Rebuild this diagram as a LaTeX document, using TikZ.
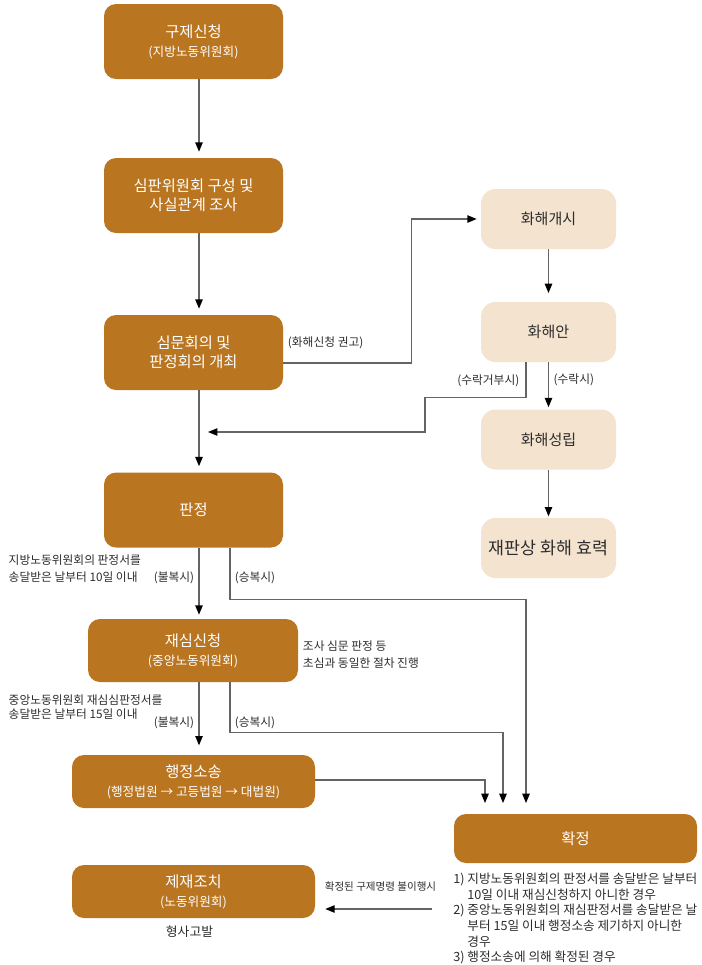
\documentclass[tikz,border=0pt]{standalone}
\usepackage{fontspec}
\setmainfont{Noto Sans CJK KR}
\usetikzlibrary{arrows.meta,positioning,calc}
\definecolor{boxbrown}{RGB}{185,117,32}
\definecolor{boxsand}{RGB}{243,227,207}
\definecolor{linegray}{RGB}{100,100,100}
\definecolor{txtgray}{RGB}{45,45,45}
\newcommand{\subline}[1]{{\fontsize{9.5}{14.25}\selectfont #1}}

\begin{document}
\begin{tikzpicture}[x=0.75pt, y=-0.75pt,
  every node/.style={font=\fontsize{8.8}{12.75}\selectfont, text=txtgray},
  stage/.style={fill=boxbrown, rounded corners=9pt, text=white, align=center, inner sep=0pt,
    minimum width=134.25pt, minimum height=56.25pt, font=\fontsize{11.5}{14.25}\selectfont},
  wide/.style={minimum width=182.25pt, minimum height=39.75pt},
  settle/.style={fill=boxsand, rounded corners=11pt, align=center, inner sep=0pt,
    minimum width=101.25pt, minimum height=45pt, font=\fontsize{11.3}{14}\selectfont},
  flow/.style={draw=linegray, line width=1pt, shorten >=4.5pt,
    -{Triangle[length=7pt,width=5.5pt,color=black]}}]

\fill[white] (0,0) rectangle (702,965);
\useasboundingbox (0,0) rectangle (702,965);

\node[stage] (claim) at (193.5,41.5) {구제신청\\\subline{(지방노동위원회)}};
\node[stage] (inquiry) at (193.5,195.5) {심판위원회 구성 및\\사실관계 조사};
\node[stage] (hearing) at (193.5,352.5) {심문회의 및\\판정회의 개최};
\node[stage] (ruling) at (193.5,510) {판정};
\node[stage, minimum width=157.5pt, minimum height=47.25pt] (review) at (193,650.5) {재심신청\\\subline{(중앙노동위원회)}};
\node[stage, wide] (lawsuit) at (193.5,781.5) {행정소송\\\subline{(행정법원 → 고등법원 → 대법원)}};
\node[stage, wide] (sanction) at (193.5,891.5) {제재조치\\\subline{(노동위원회)}};
\node[stage, wide, minimum height=36.75pt] (final) at (575.5,838.5) {확정};

\node[settle] (talks) at (548.5,219) {화해개시};
\node[settle] (proposal) at (548.5,332) {화해안};
\node[settle] (settled) at (548.5,439.5) {화해성립};
\node[settle, font=\fontsize{13}{15}\selectfont] (effect) at (548.5,548) {재판상 화해 효력};

\draw[flow] ($(claim.south)+(5.5,0)$) -- ($(inquiry.north)+(5.5,0)$);
\draw[flow] ($(inquiry.south)+(5.5,0)$) -- ($(hearing.north)+(5.5,0)$);
\draw[flow] ($(hearing.south)+(5.5,0)$) -- ($(ruling.north)+(5.5,0)$);

\draw[flow, shorten >=3pt] ($(hearing.east)+(0,10.5)$) -- ++(128,0) |- (talks.west);
\node[anchor=west] (advice) at ($(hearing.east)+(0,-9.5)$) {(화해신청 권고)};

\draw[flow, shorten >=6.5pt] (talks) -- (proposal);
\draw[flow, shorten >=1.5pt] (proposal) -- (settled);
\draw[flow, shorten >=1pt] (settled) -- (effect);
\node[anchor=west] (accept) at (549,380) {(수락시)};

\coordinate (rejoin) at (208,432);
\draw[flow, shorten >=0pt] ($(proposal.south)+(-22.5,0)$) -- ++(0,35) -- ++(-101,0) |- (rejoin);
\node[anchor=east] (refuse) at (524,381) {(수락거부시)};

\draw[flow, shorten >=3pt] ($(ruling.south)+(5.5,0)$) -- ($(review.north)+(6,0)$);
\draw[flow, shorten >=8pt] ($(ruling.south)+(36.5,0)$) -- ++(0,52) -| ($(final.north)+(-49.5,0)$);
\node (object1) at (174,578) {(불복시)};
\node (yield1) at (255,578) {(승복시)};
\node[anchor=west, align=left] (deadline1) at (4,569) {지방노동위원회의 판정서를\\송달받은 날부터 10일 이내};

\node[right=0pt of review, yshift=-3.4pt, align=left] (repeat) {조사 심문 판정 등\\초심과 동일한 절차 진행};

\draw[flow, shorten >=7pt] ($(review.south)+(6,0)$) -- ($(lawsuit.north)+(5.5,0)$);
\draw[flow, shorten >=8pt] ($(review.south)+(37,0)$) -- ++(0,50) -| ($(final.north)+(-72.5,0)$);
\node (object2) at (174,723) {(불복시)};
\node (yield2) at (255,723) {(승복시)};
\node[anchor=west, align=left, font=\fontsize{8.8}{10.75}\selectfont] (deadline2) at (4,707) {중앙노동위원회 재심심판정서를\\송달받은 날부터 15일 이내};

\draw[flow, shorten >=8pt] ($(lawsuit.east)+(0,-1.5)$) -| ($(final.north)+(-90.5,0)$);

\coordinate (breach) at (432,909);
\draw[flow, shorten >=7.5pt] (breach) -- (breach -| sanction.east);
\node[font=\fontsize{7.9}{9}\selectfont] (unmet) at (380.5,887) {확정된 구제명령 불이행시};
\node[font=\fontsize{9.6}{11}\selectfont] (charge) at (189.5,932) {형사고발};

\node[anchor=north west, align=left, inner sep=0pt, font=\fontsize{9.5}{11.7}\selectfont] (cases) at (453,873)
  {1) 지방노동위원회의 판정서를 송달받은 날부터\\
   \hphantom{1) }10일 이내 재심신청하지 아니한 경우\\
   2) 중앙노동위원회의 재심판정서를 송달받은 날\\
   \hphantom{2) }부터 15일 이내 행정소송 제기하지 아니한\\
   \hphantom{2) }경우\\
   3) 행정소송에 의해 확정된 경우};

\end{tikzpicture}
\end{document}
